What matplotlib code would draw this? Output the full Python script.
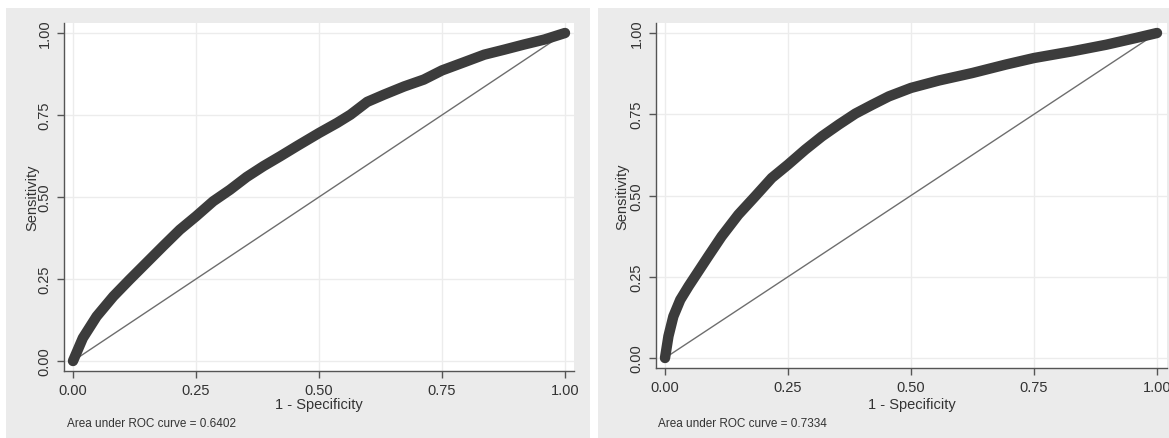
import matplotlib.pyplot as plt
from matplotlib.patches import Rectangle

plt.rcParams["font.family"] = ["Liberation Sans", "DejaVu Sans"]

# ROC points
fpr_left = [0.0, 0.020, 0.048, 0.082, 0.115, 0.149, 0.183, 0.217, 0.250, 0.285,
            0.319, 0.353, 0.387, 0.421, 0.455, 0.500, 0.537, 0.564, 0.598, 0.632,
            0.673, 0.713, 0.750, 0.795, 0.836, 0.876, 0.917, 0.958, 1.0]
tpr_left = [0.0, 0.070, 0.136, 0.197, 0.248, 0.299, 0.350, 0.400, 0.441, 0.487,
            0.522, 0.561, 0.594, 0.624, 0.655, 0.695, 0.726, 0.751, 0.790, 0.812,
            0.837, 0.858, 0.886, 0.911, 0.934, 0.949, 0.965, 0.980, 1.0]
auc_left = 0.6402

fpr_right = [0.0, 0.007, 0.017, 0.031, 0.048, 0.068, 0.088, 0.115, 0.149, 0.183,
             0.217, 0.250, 0.285, 0.319, 0.353, 0.387, 0.421, 0.455, 0.500, 0.557,
             0.625, 0.693, 0.750, 0.829, 0.897, 0.958, 1.0]
tpr_right = [0.0, 0.067, 0.128, 0.179, 0.221, 0.267, 0.313, 0.374, 0.441, 0.497,
             0.554, 0.595, 0.641, 0.682, 0.718, 0.752, 0.779, 0.805, 0.831, 0.854,
             0.877, 0.903, 0.923, 0.944, 0.964, 0.985, 1.0]
auc_right = 0.7334

ticks = [0.0, 0.25, 0.5, 0.75, 1.0]
tick_labels = ["0.00", "0.25", "0.50", "0.75", "1.00"]

W, H = 1169, 439
fig = plt.figure(figsize=(W / 100, H / 100), dpi=100, facecolor="white")

bg = "#ebebeb"
# gray graph regions behind each panel
for x0, x1 in [(6, 590), (598, 1169)]:
    fig.patches.append(Rectangle((x0 / W, 0), (x1 - x0) / W, (439 - 9) / H,
                                 transform=fig.transFigure, facecolor=bg,
                                 edgecolor="none", zorder=-10))


def px_axes(left, right, top, bottom):
    return [left / W, (H - bottom) / H, (right - left) / W, (bottom - top) / H]


panels = [
    dict(box=(64, 574, 24, 372), x0=73, x1=565, y0=362, y1=34,
         fpr=fpr_left, tpr=tpr_left, auc=auc_left, note_x=67, ylab_x=32),
    dict(box=(656, 1167, 24, 369), x0=665, x1=1157, y0=359, y1=34,
         fpr=fpr_right, tpr=tpr_right, auc=auc_right, note_x=658, ylab_x=622),
]

for p in panels:
    left, right, top, bottom = p["box"]
    ax = fig.add_axes(px_axes(left, right, top, bottom))
    ax.set_zorder(1)
    ax.set_facecolor("white")
    sx = p["x1"] - p["x0"]
    sy = p["y0"] - p["y1"]
    ax.set_xlim((left - p["x0"]) / sx, (right - p["x0"]) / sx)
    ax.set_ylim(-(bottom - p["y0"]) / sy, 1 + (p["y1"] - top) / sy)

    ax.grid(True, color="#ececec", linewidth=1.0)
    ax.set_axisbelow(True)

    ax.plot([0, 1], [0, 1], color="#6e6e6e", linewidth=1.0, zorder=2)
    ax.plot(p["fpr"], p["tpr"], color="#3c3c3c", linewidth=7.5,
            solid_capstyle="round", solid_joinstyle="round", zorder=3)

    for s in ["top", "right"]:
        ax.spines[s].set_visible(False)
    for s in ["left", "bottom"]:
        ax.spines[s].set_color("#555555")
        ax.spines[s].set_linewidth(1.0)

    ax.set_xticks(ticks)
    ax.set_xticklabels(tick_labels)
    ax.set_yticks(ticks)
    ax.set_yticklabels(tick_labels, rotation=90, va="center")
    ax.tick_params(length=5, width=1, color="#555555", labelsize=10.5,
                   labelcolor="#333333")
    ax.tick_params(axis="x", pad=4)
    ax.tick_params(axis="y", pad=4)

    ax.set_xlabel("1 - Specificity", fontsize=10.5, color="#333333")
    ax.xaxis.set_label_coords(0.5, -(405 - bottom) / (bottom - top))
    ax.xaxis.label.set_va("center")
    ax.set_ylabel("Sensitivity", fontsize=10.5, color="#333333")
    ax.yaxis.set_label_coords((p["ylab_x"] - left) / (right - left), 0.5)
    ax.yaxis.label.set_va("center")

    fig.text(p["note_x"] / W, (H - 424) / H,
             f"Area under ROC curve = {p['auc']:.4f}",
             fontsize=8.5, color="#333333", va="center", ha="left")

fig.savefig("out.png", dpi=100, facecolor="white")
